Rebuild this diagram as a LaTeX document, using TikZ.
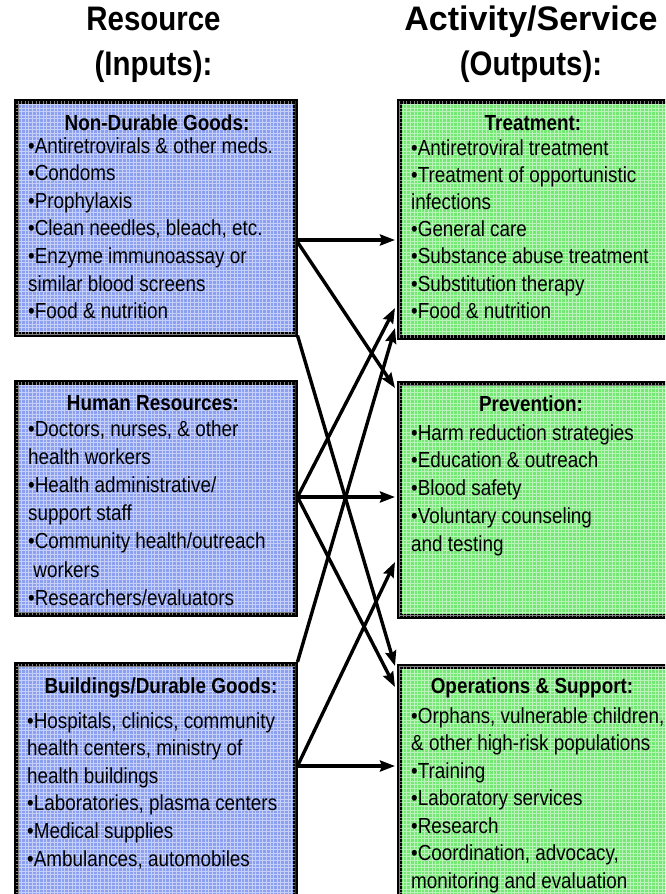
\documentclass[tikz,border=0pt]{standalone}
\usepackage{fontspec}
\setmainfont{Liberation Sans}
\usetikzlibrary{arrows.meta,calc}

\definecolor{inblue}{RGB}{140,160,242}
\definecolor{outgreen}{RGB}{115,232,115}

% all lettering is set in a narrowed Arial-like face
\newcommand{\narrow}[1]{\scalebox{0.866}[1]{#1}}
\newcommand{\itemlines}[1]{\narrow{\parbox[t]{320pt}{\raggedright #1}}}

\tikzset{
  boxframe/.style={draw=black, line width=4.5pt, anchor=north west, inner sep=0pt},
  resbox/.style={boxframe, fill=inblue},
  actbox/.style={boxframe, fill=outgreen},
  texture/.style={draw=white, opacity=0.5, line width=0.9pt, xstep=3.6pt, ystep=3.6pt},
  boxtitle/.style={anchor=base, inner sep=0pt, font=\fontsize{21.8}{26}\selectfont\bfseries},
  boxbody/.style={anchor=base west, inner sep=0pt, font=\fontsize{21.8}{#1}\selectfont},
  boxbody/.default=27.6,
  header/.style={anchor=base, inner sep=0pt, font=\fontsize{34}{40}\selectfont\bfseries},
  link/.style={line width=3.4pt, -{Stealth[length=15pt,width=11pt,inset=2pt]}},
}

\begin{document}
\begin{tikzpicture}[x=1pt, y=-1pt]
\path[use as bounding box, clip] (0,0) rectangle (665,894);

% column headers
\node[header] (reshead)  at (153.5,30) {\narrow{Resource}};
\node[header] (resinput) at (153.5,75) {\narrow{(Inputs):}};
\node[header] (acthead)  at (531,30)   {Activity/Service};
\node[header] (actout)   at (531,75)   {\narrow{(Outputs):}};

% resource boxes (left column)
\node[resbox, minimum width=279pt, minimum height=233pt] (nondurable) at (14,99) {};
\node[resbox, minimum width=279pt, minimum height=232pt] (human)      at (14,380) {};
\node[resbox, minimum width=279pt, minimum height=260pt] (buildings)  at (14,662) {};

% activity boxes (right column, running past the right edge)
\node[actbox, minimum width=283pt, minimum height=236pt] (treatment)  at (397,99) {};
\node[actbox, minimum width=283pt, minimum height=233pt] (prevention) at (397,381) {};
\node[actbox, minimum width=283pt, minimum height=260pt] (operations) at (397,664) {};

% fine grid texture inside each box
\foreach \b in {nondurable,human,buildings,treatment,prevention,operations}{
  \begin{scope}
    \clip ($(\b.north west)+(2.2,2.2)$) rectangle ($(\b.south east)+(-2.2,-2.2)$);
    \draw[texture] (\b.south west) grid (\b.north east);
  \end{scope}
}

% box contents
\node[boxtitle] (ndtitle) at (157,130) {\narrow{Non-Durable Goods:}};
\node[boxbody] (ndlist) at (28,153) {\itemlines{%
•Antiretrovirals \& other meds.\\
•Condoms\\
•Prophylaxis\\
•Clean needles, bleach, etc.\\
•Enzyme immunoassay or\\
similar blood screens\\
•Food \& nutrition}};

\node[boxtitle] (hrtitle) at (153,410) {\narrow{Human Resources:}};
\node[boxbody=28.2] (hrlist) at (28,436) {\itemlines{%
•Doctors, nurses, \& other\\
health workers\\
•Health administrative/\\
support staff\\
•Community health/outreach\\
\hspace*{6pt}workers\\
•Researchers/evaluators}};

\node[boxtitle] (bdtitle) at (161,693) {\narrow{Buildings/Durable Goods:}};
\node[boxbody] (bdlist) at (27,728) {\itemlines{%
•Hospitals, clinics, community\\
health centers, ministry of\\
health buildings\\
•Laboratories, plasma centers\\
•Medical supplies\\
•Ambulances, automobiles}};

\node[boxtitle] (trtitle) at (533,130) {\narrow{Treatment:}};
\node[boxbody=27.2] (trlist) at (411,155) {\itemlines{%
•Antiretroviral treatment\\
•Treatment of opportunistic\\
infections\\
•General care\\
•Substance abuse treatment\\
•Substitution therapy\\
•Food \& nutrition}};

\node[boxtitle] (prtitle) at (531,411) {\narrow{Prevention:}};
\node[boxbody=27.75] (prlist) at (411,440) {\itemlines{%
•Harm reduction strategies\\
•Education \& outreach\\
•Blood safety\\
•Voluntary counseling\\
and testing}};

\node[boxtitle] (optitle) at (532,693) {\narrow{Operations \& Support:}};
\node[boxbody=27.5] (oplist) at (411,723) {\itemlines{%
•Orphans, vulnerable children,\\
\& other high-risk populations\\
•Training\\
•Laboratory services\\
•Research\\
•Coordination, advocacy,\\
monitoring and evaluation}};

% links from each resource to each activity
\draw[link] ($(nondurable.north east)+(0,141)$) -- ($(treatment.north west)+(-2,141)$);
\draw[link] ($(nondurable.north east)+(0,143)$) -- ($(prevention.north west)+(-2,7)$);
\draw[link] ($(nondurable.south east)+(0,-1)$)  -- ($(operations.north west)+(-2,2)$);
\draw[link] ($(human.north east)+(0,117)$) -- ($(treatment.north west)+(-2,209)$);
\draw[link] ($(human.north east)+(0,117)$) -- ($(prevention.north west)+(-2,116)$);
\draw[link] ($(human.north east)+(0,117)$) -- ($(operations.north west)+(-2,23)$);
\draw[link] (buildings.north east) -- ($(treatment.north west)+(-2,229)$);
\draw[link] ($(buildings.north east)+(0,104)$) -- ($(prevention.north west)+(-2,181)$);
\draw[link] ($(buildings.north east)+(0,104)$) -- ($(operations.north west)+(-2,102)$);
\end{tikzpicture}
\end{document}
